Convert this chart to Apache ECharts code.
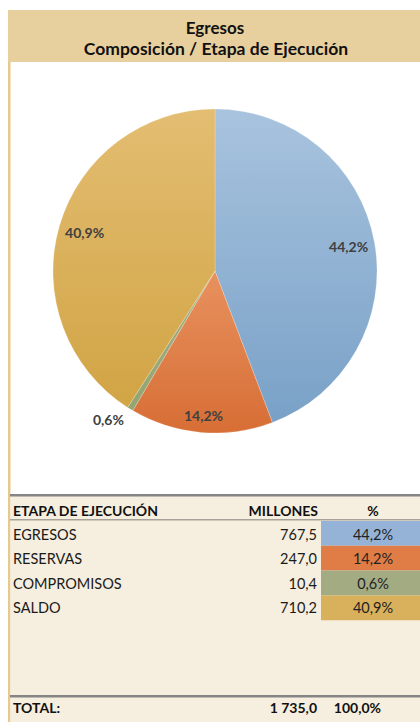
<!DOCTYPE html>
<html><head><meta charset="utf-8">
<script src="https://cdn.jsdelivr.net/npm/echarts@6/dist/echarts.min.js"></script>
<style>html,body{margin:0;padding:0;background:#fff}#c{width:420px;height:722px}</style>
</head><body><div id="c"></div>
<script>
const categories = ['EGRESOS', 'RESERVAS', 'COMPROMISOS', 'SALDO'];
const millones = [767.5, 247.0, 10.4, 710.2];
const millonesLabels = ['767,5', '247,0', '10,4', '710,2'];
const pctLabels = ['44,2%', '14,2%', '0,6%', '40,9%'];
const totalLabels = ['TOTAL:', '1 735,0', '100,0%'];
const headers = ['ETAPA DE EJECUCIÓN', 'MILLONES', '%'];
const titleLines = ['Egresos', 'Composición / Etapa de Ejecución'];

const grad = (a, b) => ({type: 'linear', x: 0, y: 0, x2: 0, y2: 1, colorStops: [{offset: 0, color: a}, {offset: 1, color: b}]});
const sliceColors = [grad('#a8c3de', '#79a1c7'), grad('#e8915f', '#d76e35'), grad('#a2b084', '#93a471'), grad('#e3bd72', '#d1a444')];
const cellColors = ['#95b3d7', '#e07c46', '#a3ab83', '#d9b05c'];
const FONT = 'Lato';

const chart = echarts.init(document.getElementById('c'), null, {renderer: 'svg'});
const CX = 215, CY = 271, R = 162;

const mainData = categories.map((n, i) => ({
  name: n, value: millones[i], itemStyle: {color: sliceColors[i]},
  label: i === 2 ? {show: true, position: 'outside'} : {show: false}
}));
const labelData = categories.map((n, i) => ({
  name: n, value: millones[i],
  label: i === 2 ? {show: false} : {show: true, offset: i === 1 ? [0, 9] : [0, 0]}
}));

const rowY = [534, 558.5, 583, 607.5];
const graphics = [
  {type: 'rect', shape: {x: 8, y: 10, width: 412, height: 52}, style: {fill: '#e8d09e'}, z: -10},
  {type: 'rect', shape: {x: 8, y: 62, width: 2.5, height: 660}, style: {fill: '#e6c98e'}, z: -10},
  {type: 'rect', shape: {x: 10.5, y: 495, width: 410, height: 227}, style: {fill: '#f6eede'}, z: -10},
  {type: 'rect', shape: {x: 10, y: 494, width: 410, height: 2.5}, style: {fill: '#858585'}},
  {type: 'rect', shape: {x: 10, y: 519, width: 410, height: 1.5}, style: {fill: '#a8a39a'}},
  {type: 'rect', shape: {x: 10, y: 695, width: 410, height: 2.5}, style: {fill: '#858585'}},
  {type: 'text', x: 215, y: 27, style: {text: titleLines[0], font: 'bold 17px ' + FONT, fill: '#111', textAlign: 'center', textVerticalAlign: 'middle'}},
  {type: 'text', x: 216, y: 48, style: {text: titleLines[1], font: 'bold 17.5px ' + FONT, fill: '#111', textAlign: 'center', textVerticalAlign: 'middle'}},
  {type: 'text', x: 13, y: 510, style: {text: headers[0], font: 'bold 14px ' + FONT, fill: '#111', textVerticalAlign: 'middle'}},
  {type: 'text', x: 318, y: 510, style: {text: headers[1], font: 'bold 14px ' + FONT, fill: '#111', textAlign: 'right', textVerticalAlign: 'middle'}},
  {type: 'text', x: 373, y: 510, style: {text: headers[2], font: 'bold 14px ' + FONT, fill: '#111', textAlign: 'center', textVerticalAlign: 'middle'}},
  {type: 'text', x: 13, y: 707, style: {text: totalLabels[0], font: 'bold 14px ' + FONT, fill: '#111', textVerticalAlign: 'middle'}},
  {type: 'text', x: 317, y: 707, style: {text: totalLabels[1], font: 'bold 14px ' + FONT, fill: '#111', textAlign: 'right', textVerticalAlign: 'middle'}},
  {type: 'text', x: 381, y: 707, style: {text: totalLabels[2], font: 'bold 14px ' + FONT, fill: '#111', textAlign: 'right', textVerticalAlign: 'middle'}}
];
categories.forEach((n, i) => {
  const y = rowY[i];
  graphics.push(
    {type: 'rect', shape: {x: 321, y: 521 + i * 24.8, width: 99, height: 24.8}, style: {fill: cellColors[i]}},
    {type: 'text', x: 13, y: y, style: {text: n, font: '14.5px ' + FONT, fill: '#1a1a1a', textVerticalAlign: 'middle'}},
    {type: 'text', x: 317, y: y, style: {text: millonesLabels[i], font: '14.5px ' + FONT, fill: '#1a1a1a', textAlign: 'right', textVerticalAlign: 'middle'}},
    {type: 'text', x: 373, y: y, style: {text: pctLabels[i], font: '14.5px ' + FONT, fill: '#222', textAlign: 'center', textVerticalAlign: 'middle'}}
  );
});

chart.setOption({
  animation: false,
  backgroundColor: '#ffffff',
  graphic: graphics,
  series: [
    {
      type: 'pie', center: [CX, CY], radius: R, startAngle: 90, clockwise: true,
      avoidLabelOverlap: false, silent: true,
      data: mainData,
      itemStyle: {borderColor: 'rgba(255,255,255,0.35)', borderWidth: 0.6},
      label: {formatter: p => pctLabels[p.dataIndex], fontFamily: FONT, fontWeight: 'bold', fontSize: 14, color: '#404040', distanceToLabelLine: 0},
      labelLine: {show: false, length: 12, length2: 0}
    },
    {
      type: 'pie', center: [CX, CY], radius: [R * 0.64, R], startAngle: 90, clockwise: true,
      avoidLabelOverlap: false, silent: true,
      data: labelData,
      itemStyle: {color: 'rgba(0,0,0,0)', borderWidth: 0},
      label: {position: 'inside', formatter: p => pctLabels[p.dataIndex], fontFamily: FONT, fontWeight: 'bold', fontSize: 14, color: '#404040'},
      labelLine: {show: false}
    }
  ]
});
</script></body></html>
